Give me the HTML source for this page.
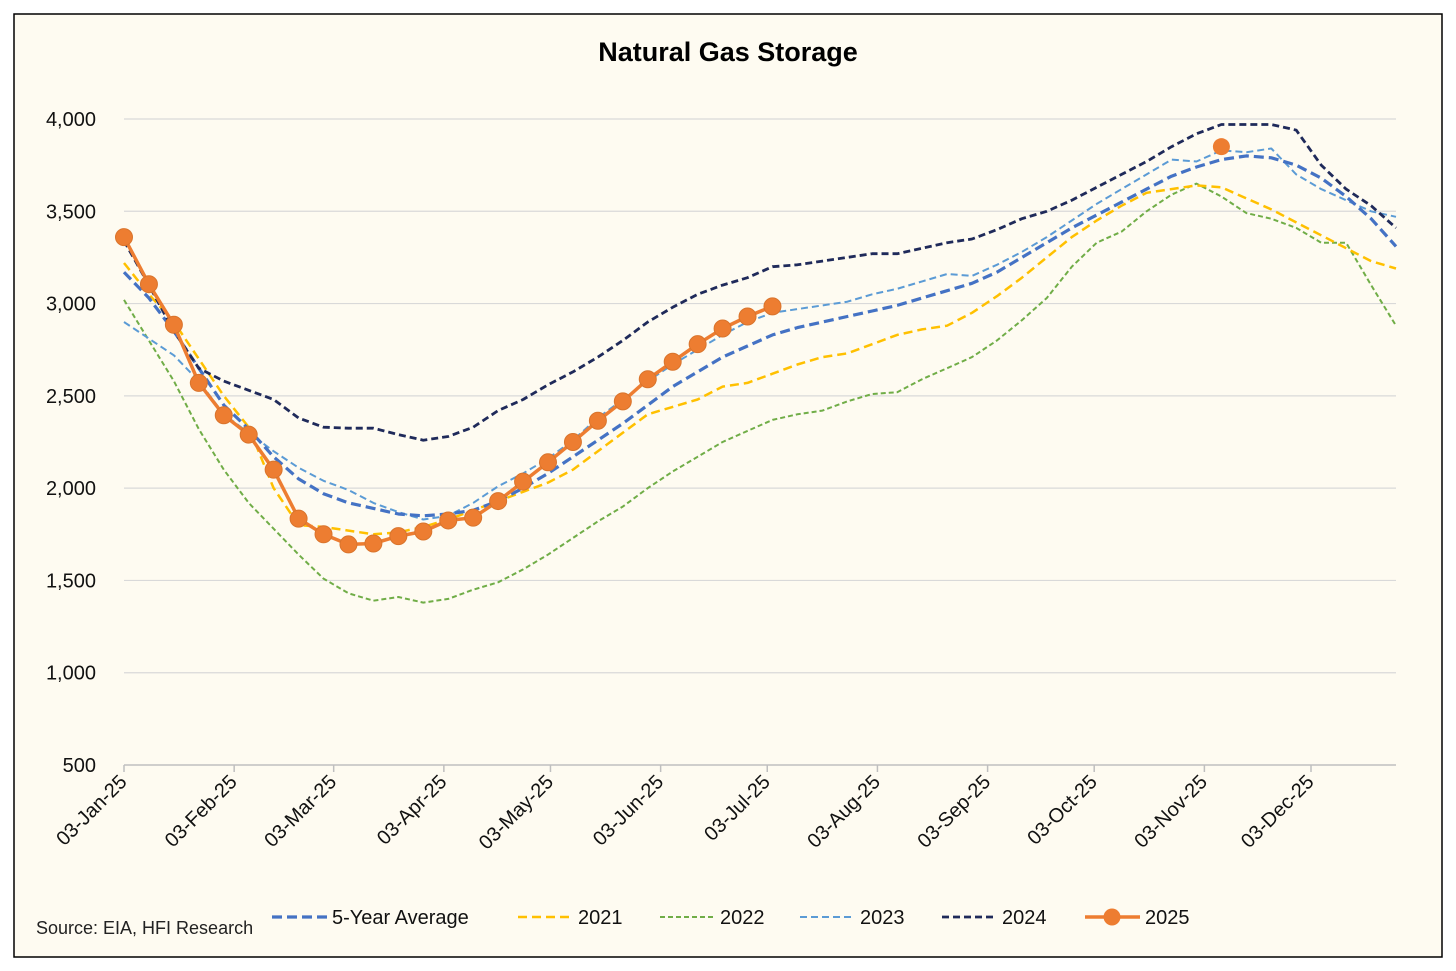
<!DOCTYPE html>
<html><head><meta charset="utf-8"><style>
body{margin:0;background:#fff;}
svg{display:block;font-family:"Liberation Sans",Calibri,sans-serif;}
</style></head><body>
<svg width="1456" height="971" viewBox="0 0 1456 971">
<rect x="14" y="14" width="1428" height="943" fill="#FEFBF1" stroke="#000" stroke-width="1.5"/>
<text x="728" y="61" text-anchor="middle" font-size="27" font-weight="bold" fill="#000">Natural Gas Storage</text>
<g id="grid"></g><g id="axes"></g><g id="series"></g>
<text x="36" y="934" font-size="18" fill="#222">Source: EIA, HFI Research</text>
<g id="legend"></g>
</svg>
<script>
const yTicks=[500,1000,1500,2000,2500,3000,3500,4000];
const monthLabels=["03-Jan-25","03-Feb-25","03-Mar-25","03-Apr-25","03-May-25","03-Jun-25","03-Jul-25","03-Aug-25","03-Sep-25","03-Oct-25","03-Nov-25","03-Dec-25"];
const monthDays=[0,31,59,90,120,151,181,212,243,273,304,334];
const avg5=[3170,3030,2850,2650,2450,2320,2170,2050,1970,1920,1890,1860,1850,1860,1880,1930,2000,2080,2170,2260,2350,2450,2550,2630,2710,2770,2830,2870,2900,2930,2960,2990,3030,3070,3110,3170,3250,3330,3410,3480,3550,3620,3690,3740,3780,3800,3790,3750,3680,3580,3460,3310];
const y2021=[3220,3050,2900,2700,2500,2330,2000,1800,1790,1770,1750,1760,1790,1830,1880,1930,1980,2030,2100,2200,2300,2400,2440,2480,2550,2570,2620,2670,2710,2730,2780,2830,2860,2880,2950,3040,3140,3250,3360,3450,3530,3600,3620,3640,3630,3570,3510,3440,3370,3300,3230,3190];
const y2022=[3020,2800,2580,2320,2100,1920,1780,1640,1510,1430,1390,1410,1380,1400,1450,1490,1560,1640,1730,1820,1900,2000,2090,2170,2250,2310,2370,2400,2420,2470,2510,2520,2590,2650,2710,2800,2910,3030,3200,3330,3390,3500,3590,3650,3580,3490,3460,3410,3330,3100,2880].slice(0,49).concat([3330,3100,2880]);
const y2023=[2900,2810,2720,2580,2400,2300,2200,2110,2040,1990,1920,1870,1830,1850,1920,2010,2080,2160,2260,2380,2480,2580,2670,2750,2830,2900,2950,2970,2990,3010,3050,3080,3120,3160,3150,3210,3280,3360,3450,3540,3620,3700,3780,3770,3830,3820,3840,3700,3620,3560,3500,3470];
const y2024=[3340,3100,2850,2650,2580,2530,2480,2380,2330,2325,2325,2290,2260,2280,2330,2420,2480,2560,2630,2710,2800,2900,2980,3050,3100,3140,3200,3210,3230,3250,3270,3270,3300,3330,3350,3400,3460,3500,3560,3630,3700,3770,3850,3920,3970,3970,3970,3940,3750,3620,3530,3410];
const y2025=[3360,3105,2885,2570,2395,2290,2100,1835,1750,1695,1700,1740,1765,1825,1840,1930,2035,2140,2250,2365,2470,2590,2685,2780,2865,2930,2985];
const y2025Extra=[[44,3850]];
const NS="http://www.w3.org/2000/svg";
function el(t,a,p){const e=document.createElementNS(NS,t);for(const k in a)e.setAttribute(k,a[k]);p.appendChild(e);return e;}
const X0=124,X1=1396,Y0=765,Y1=119;
const pxDay=(1311-124)/334;
function xDay(d){return X0+d*pxDay;}
function xWeek(i){return X0+i*(X1-X0)/51;}
function yv(v){return Y0-(v-500)*(Y0-Y1)/3500;}
const grid=document.getElementById('grid'),axes=document.getElementById('axes'),ser=document.getElementById('series'),leg=document.getElementById('legend');
yTicks.forEach(v=>{
 if(v>500){const l=el('line',{x1:X0,x2:X1,y1:yv(v),y2:yv(v),stroke:'#D9D9D9','stroke-width':1.2},grid);
 
 }
 const t=el('text',{x:96,y:yv(v)+7,'text-anchor':'end','font-size':20,fill:'#111'},axes);t.textContent=v.toLocaleString('en-US');
 
 
});
const ax=el('line',{x1:X0,x2:X1,y1:Y0,y2:Y0,stroke:'#BFBFBF','stroke-width':1.5},axes);


monthLabels.forEach((m,i)=>{
 const x=xDay(monthDays[i]);
 const tk=el('line',{x1:x,x2:x,y1:Y0,y2:Y0+7,stroke:'#BFBFBF','stroke-width':1.5},axes);
 
 
 const t=el('text',{x:x+4,y:Y0+18,'text-anchor':'end','font-size':20,fill:'#111',transform:`rotate(-45 ${x+4} ${Y0+18})`},axes);t.textContent=m;
 
 
});
function line(arr,color,w,dash,name){
 const d=arr.map((v,i)=>(i?'L':'M')+xWeek(i).toFixed(1)+' '+yv(v).toFixed(1)).join(' ');
 const p=el('path',{d:d,fill:'none',stroke:color,'stroke-width':w,'stroke-dasharray':dash,'stroke-linejoin':'round'},ser);
 
 
}
line(y2022,'#70AD47',2,'5 3','series-2022');
line(y2021,'#FFC000',2.5,'9 5','series-2021');
line(y2023,'#5B9BD5',2,'7 4','series-2023');
line(avg5,'#4472C4',3.2,'10 5','series-5-year-average');
line(y2024,'#1F2A5A',2.8,'7 4','series-2024');
line(y2025,'#ED7D31',3.5,'','series-2025');
y2025.forEach((v,i)=>{const c=el('circle',{cx:xWeek(i),cy:yv(v),r:8.5,fill:'#ED7D31',stroke:'#D9742C','stroke-width':1},ser);
 
 });
y2025Extra.forEach(p=>{const c=el('circle',{cx:xWeek(p[0]),cy:yv(p[1]),r:8.5,fill:'#ED7D31'},ser);
 
 });
const legItems=[["5-Year Average",'#4472C4',3.2,'10 5',272],["2021",'#FFC000',2.5,'9 5',518],["2022",'#70AD47',2,'5 3',660],["2023",'#5B9BD5',2,'7 4',800],["2024",'#1F2A5A',2.8,'7 4',942],["2025",'#ED7D31',3.5,'',1085]];
legItems.forEach(it=>{
 const g=el('g',{},leg);
 
 
 el('line',{x1:it[4],x2:it[4]+55,y1:917,y2:917,stroke:it[1],'stroke-width':it[2],'stroke-dasharray':it[3]},g);
 if(!it[3])el('circle',{cx:it[4]+27,cy:917,r:8.5,fill:it[1]},g);
 const t=el('text',{x:it[4]+60,y:924,'font-size':20,fill:'#111'},g);t.textContent=it[0];
});
</script>
</body></html>
